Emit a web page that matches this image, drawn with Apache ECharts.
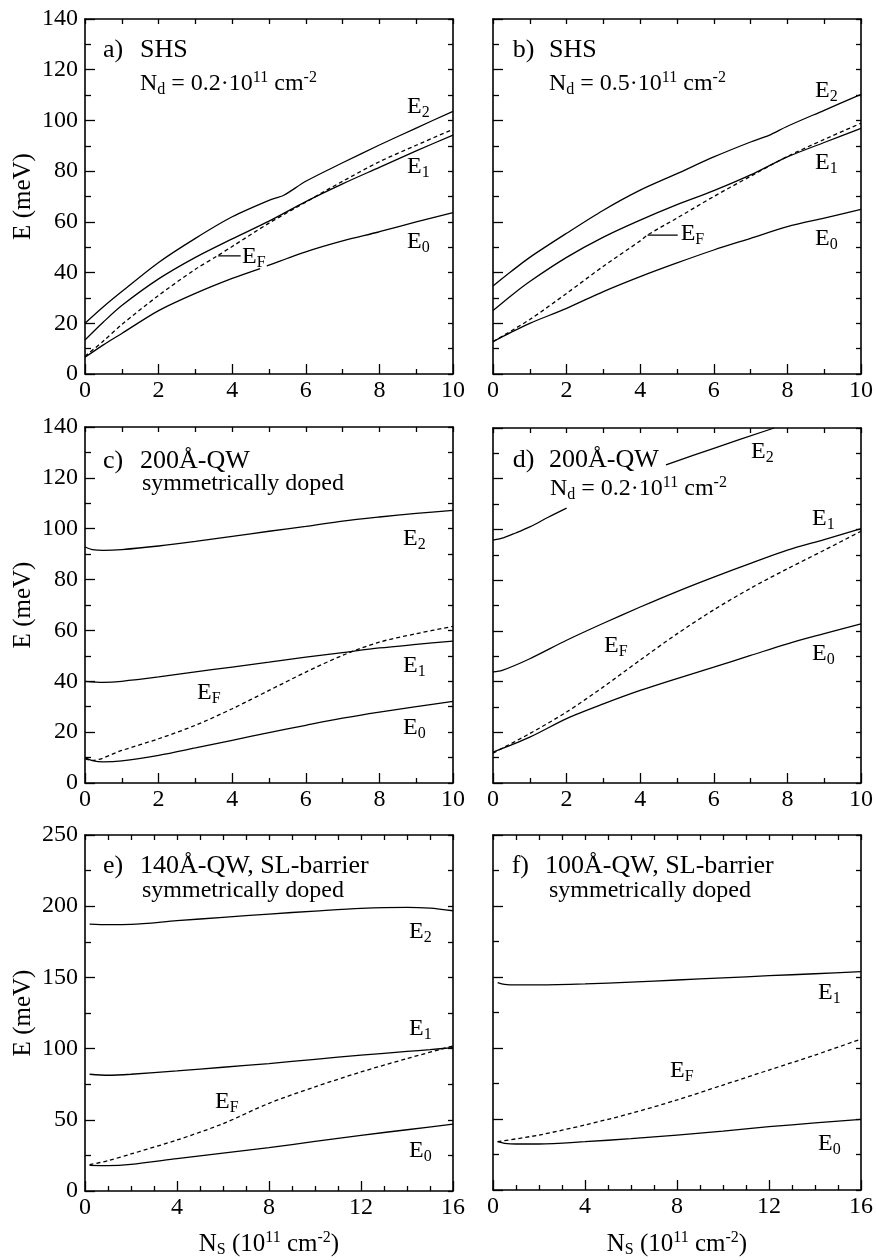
<!DOCTYPE html>
<html>
<head>
<meta charset="utf-8">
<script src="https://cdn.jsdelivr.net/npm/echarts@6/dist/echarts.min.js"></script>
<style>
html,body{margin:0;padding:0;background:#fff;}
#chart{width:876px;height:1260px;}
</style>
</head>
<body>
<div id="chart"></div>
<script>
// ---------------- DATA (N_S in 1e11 cm^-2, E in meV) ----------------
// panel a) SHS, Nd = 0.2
const aE2 = [[0,20],[0.5,26.5],[1,32.5],[2,44],[3,53.5],[4,62],[5,68.5],[5.4,70.5],[6,76],[7,83.3],[8,90.3],[9,97],[10,103.6]];
const aE1 = [[0,13.4],[0.5,20.5],[1,27],[2,37.5],[3,46],[4,53.3],[5,60.3],[6,68],[7,75],[8,81.5],[9,88],[10,94.2]];
const aEF = [[0,7],[0.5,13],[1,19.5],[2,31],[3,41.3],[3.6,46.6],[4,50.3],[5,59.5],[6,67.8],[7,76],[8,83.7],[9,90.2],[10,96.5]];
const aE0 = [[0,6.6],[0.5,11.5],[1,16],[2,25],[3,31.8],[4,37.7],[4.76,41.6],[4.85,null],[4.94,42.6],[6,48.2],[7,52.5],[8,56.1],[9,60],[10,63.6]];
const aLeader = [[3.62,46.6],[4.23,46.6]];
// panel b) SHS, Nd = 0.5
const bE2 = [[0,34.7],[0.5,40.5],[1,46],[2,55.5],[3,64.6],[4,72.5],[5,79],[6,85.6],[7,91.5],[7.5,94.1],[8,97.7],[9,104],[10,110.3]];
const bE1 = [[0,25],[0.5,31],[1,36.5],[2,46],[3,54],[4,60.7],[5,66.8],[6,72.3],[7,78.5],[8,85.6],[9,91.3],[10,96.9]];
const bEF = [[0,12.75],[1,21.5],[2,31.8],[3,42.5],[4,52.5],[4.2,54.8],[5,61.5],[6,70],[7,78],[8,85.8],[9,92.5],[10,98.9]];
const bE0 = [[0,12.75],[0.5,16.5],[1,20],[2,25.9],[3,32.5],[4,38.4],[5,43.8],[6,48.9],[7,53.5],[8,58.1],[9,61.5],[10,64.9]];
const bLeader = [[4.2,54.8],[5.02,54.8]];
// panel c) 200A-QW symmetrically doped
const cE2 = [[0,92.8],[0.2,91.8],[0.5,91.5],[1,91.8],[2,93.2],[3,95],[4,97],[5,99],[6,100.9],[7,103],[8,104.6],[9,106],[10,107.2]];
const cE1 = [[0,40],[0.5,39.6],[1,40],[2,41.7],[3,43.7],[4,45.6],[5,47.5],[6,49.5],[7,51.3],[8,53.1],[9,54.5],[10,55.8]];
const cEF = [[0,9.6],[0.2,8.9],[1,12.8],[2,17.4],[3,22.7],[4,29.2],[5,36.4],[6,43.6],[7,50.2],[8,55.4],[9,58.7],[10,61.6]];
const cE0 = [[0,10],[0.2,8.8],[0.5,8.3],[1,8.7],[2,10.9],[3,13.8],[4,16.8],[5,19.8],[6,22.7],[7,25.5],[8,27.9],[9,30],[10,32.1]];
// panel d) 200A-QW, Nd = 0.2
const dE2 = [[0,95.8],[0.3,96.8],[0.6,98.5],[1,101],[1.5,104.8],[2,108.4],[3,null],[4.7,125.5],[6,132],[7.64,140]];
const dE1 = [[0,43.8],[0.25,44.4],[1,49],[2,56.3],[3,63],[4,69.4],[5,75.5],[6,81.2],[7,86.6],[8,91.8],[9,96],[10,100.3]];
const dEF = [[0,11.8],[1,19.5],[2,28],[3,37.9],[4,48.5],[5,58.8],[6,68.3],[7,76.8],[8,84.5],[9,91.8],[10,99.3]];
const dE0 = [[0,12.2],[1,18.1],[2,25.4],[3,31.2],[4,36.5],[5,41.2],[6,45.7],[7,50.3],[8,54.9],[9,58.9],[10,62.8]];
// panel e) 140A-QW, SL-barrier
const eE2 = [[0.2,187.4],[1,187],[2,187.2],[4,189.8],[6,192.2],[8,194.5],[10,196.6],[12,198.5],[14,199.2],[15,198.6],[16,196.8]];
const eE1 = [[0.2,82],[1,81.3],[2,82],[4,84.3],[6,86.9],[8,89.5],[10,92.5],[12,95.4],[14,98],[15,99.3],[16,100.7]];
const eEF = [[0.2,18.5],[1,21.3],[2,26],[4,35.8],[6,47.3],[8,61.6],[10,73.1],[12,83.6],[14,93],[16,101.9]];
const eE0 = [[0.2,18],[1,17.8],[2,18.7],[4,22.7],[6,26.6],[8,30.5],[10,34.8],[12,39.1],[14,43],[16,46.9]];
// panel f) 100A-QW, SL-barrier
const fE1 = [[0.2,146],[0.5,144.8],[1,144.4],[2,144.4],[4,145.1],[6,146.4],[8,147.9],[10,149.4],[12,150.9],[14,152.3],[16,153.8]];
const fEF = [[0.2,34],[2,38.7],[4,45.8],[6,54],[8,63.4],[10,73.9],[12,84.5],[14,95],[16,106.3]];
const fE0 = [[0.2,34],[0.5,32.9],[1,32.4],[2,32.4],[4,34],[6,36.2],[8,38.7],[10,41.5],[12,44.6],[14,47.2],[16,49.8]];

// axis ranges [xmax, xinterval, xminorSplit, ymax, yinterval, yminorSplit]
const axisRanges = [
  [10,2,2,140,20,2],[10,2,2,140,20,2],
  [10,2,2,140,20,2],[10,2,2,140,20,2],
  [16,4,4,250,50,2],[16,4,4,250,50,2]
];

// ---------------- LAYOUT ----------------
const FONT = 'Liberation Serif';
const grids = [
  {left:85, top:19, width:368, height:355},
  {left:493, top:19, width:369, height:355},
  {left:85, top:427, width:368, height:356},
  {left:493, top:428, width:369, height:355},
  {left:85, top:835, width:368, height:356},
  {left:493, top:835, width:369, height:355}
];
const BLACK = '#000';
const AXW = 1.6;

const xAxes = [], yAxes = [];
function tickStyle(){ return {color:BLACK, width:1.3}; }
for (let g=0; g<6; g++){
  const r = axisRanges[g];
  xAxes.push({type:'value', gridIndex:g, min:0, max:r[0], interval:r[1], position:'bottom',
    axisLine:{show:true,onZero:false,lineStyle:{color:BLACK,width:AXW}},
    axisTick:{show:true,inside:true,length:10,lineStyle:tickStyle()},
    minorTick:{show:true,splitNumber:r[2],length:5,lineStyle:tickStyle()},
    splitLine:{show:false}, minorSplitLine:{show:false},
    axisLabel:{show:true,margin:5,color:BLACK,fontFamily:FONT,fontSize:24}});
  yAxes.push({type:'value', gridIndex:g, min:0, max:r[3], interval:r[4], position:'left',
    axisLine:{show:true,onZero:false,lineStyle:{color:BLACK,width:AXW}},
    axisTick:{show:true,inside:true,length:10,lineStyle:tickStyle()},
    minorTick:{show:true,splitNumber:r[5],length:6,lineStyle:tickStyle()},
    splitLine:{show:false}, minorSplitLine:{show:false},
    axisLabel:{show:(g%2===0),margin:7,color:BLACK,fontFamily:FONT,fontSize:24}});
}
for (let g=0; g<6; g++){
  const r = axisRanges[g];
  xAxes.push({type:'value', gridIndex:g, min:0, max:r[0], interval:r[1], position:'top',
    axisLine:{show:true,onZero:false,lineStyle:{color:BLACK,width:AXW}},
    axisTick:{show:true,inside:true,length:5,lineStyle:tickStyle()},
    minorTick:{show:true,splitNumber:r[2],length:5,lineStyle:tickStyle()},
    splitLine:{show:false}, axisLabel:{show:false}});
  yAxes.push({type:'value', gridIndex:g, min:0, max:r[3], interval:r[4], position:'right',
    axisLine:{show:true,onZero:false,lineStyle:{color:BLACK,width:AXW}},
    axisTick:{show:true,inside:true,length:5,lineStyle:tickStyle()},
    minorTick:{show:true,splitNumber:r[5],length:5,lineStyle:tickStyle()},
    splitLine:{show:false}, axisLabel:{show:false}});
}

function curve(data, g, dashed, straight){
  return {type:'line', xAxisIndex:g, yAxisIndex:g, symbol:'none', showSymbol:false,
    data: data.map(p => [p[0], p[1]===null ? '-' : p[1]]),
    smooth: straight ? false : 0.3,
    connectNulls:false, clip:true, silent:true, animation:false,
    lineStyle:{color:BLACK, width:1.3, type: dashed ? [4,3] : 'solid'}};
}
const series = [
  curve(aE2,0), curve(aE1,0), curve(aEF,0,true), curve(aE0,0), curve(aLeader,0,false,true),
  curve(bE2,1), curve(bE1,1), curve(bEF,1,true), curve(bE0,1), curve(bLeader,1,false,true),
  curve(cE2,2), curve(cE1,2), curve(cEF,2,true), curve(cE0,2),
  curve(dE2,3), curve(dE1,3), curve(dEF,3,true), curve(dE0,3),
  curve(eE2,4), curve(eE1,4), curve(eEF,4,true), curve(eE0,4),
  curve(fE1,5), curve(fEF,5,true), curve(fE0,5)
];

// ---------------- TEXT ----------------
const RICH = {
  s:{fontFamily:FONT, fontSize:16, fill:BLACK, verticalAlign:'bottom', lineHeight:14},
  p:{fontFamily:FONT, fontSize:16, fill:BLACK, verticalAlign:'top', lineHeight:14}
};
function T(x, y, text, size, align, rot){
  const el = {type:'text', x:x, y:y, silent:true, z:100,
    style:{text:text, fontFamily:FONT, fontSize:size||24, fill:BLACK,
      align:align||'left', verticalAlign:'middle', lineHeight:28, rich:RICH}};
  if (rot) el.rotation = rot;
  return el;
}
const H = 26;
const graphics = [
  // a
  T(103,50,'a)',H), T(140,50,'SHS',H), T(140,84,'N{s|d} = 0.2·10{p|11} cm{p|-2}'),
  T(407,106.5,'E{s|2}'), T(407,167,'E{s|1}'), T(407,241.5,'E{s|0}'), T(242,256.5,'E{s|F}'),
  // b
  T(512.7,50,'b)',H), T(549,50,'SHS',H), T(549,84,'N{s|d} = 0.5·10{p|11} cm{p|-2}'),
  T(815,91,'E{s|2}'), T(815,163,'E{s|1}'), T(815,238.5,'E{s|0}'), T(680.7,233.5,'E{s|F}'),
  // c
  T(103,461,'c)',H), T(140,461,'200Å-QW',H), T(142,484,'symmetrically doped'),
  T(403,539,'E{s|2}'), T(403,666,'E{s|1}'), T(403,728,'E{s|0}'), T(197,693,'E{s|F}'),
  // d
  T(512.7,460,'d)',H), T(549,460,'200Å-QW',H), T(550,489,'N{s|d} = 0.2·10{p|11} cm{p|-2}'),
  T(751,452,'E{s|2}'), T(812,519,'E{s|1}'), T(812,654,'E{s|0}'), T(604,645.5,'E{s|F}'),
  // e
  T(103,866,'e)',H), T(140,866,'140Å-QW, SL-barrier',H), T(142,891,'symmetrically doped'),
  T(409,931.5,'E{s|2}'), T(409,1029,'E{s|1}'), T(409,1150.5,'E{s|0}'), T(215,1101.5,'E{s|F}'),
  // f
  T(511.7,866,'f)',H), T(545,866,'100Å-QW, SL-barrier',H), T(549,891,'symmetrically doped'),
  T(818,992.5,'E{s|1}'), T(818,1144,'E{s|0}'), T(670,1070.5,'E{s|F}'),
  // axis titles
  T(23,196.5,'E (meV)',25,'center',Math.PI/2),
  T(23,605,'E (meV)',25,'center',Math.PI/2),
  T(23,1013,'E (meV)',25,'center',Math.PI/2),
  T(269,1244,'N{s|S} (10{p|11} cm{p|-2})',25,'center'),
  T(677,1244,'N{s|S} (10{p|11} cm{p|-2})',25,'center')
];

const chart = echarts.init(document.getElementById('chart'), null, {renderer:'canvas'});
chart.setOption({
  backgroundColor:'#fff',
  animation:false,
  grid: grids,
  xAxis: xAxes,
  yAxis: yAxes,
  series: series,
  graphic: graphics
});
</script>
</body>
</html>
